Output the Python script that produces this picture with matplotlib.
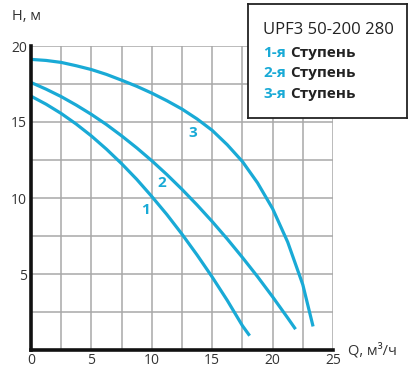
import numpy as np
import matplotlib.pyplot as plt

plt.rcParams['font.family'] = ['Open Sans', 'DejaVu Sans']

# pump curves: Q [m3/h], H [m]
q1 = [0, 1.25, 2.5, 3.75, 5, 6.25, 7.5, 8.75, 10, 11.25, 12.5, 13.75, 15, 16.25,
      17.5, 18.1]
h1 = [16.7, 16.17, 15.56, 14.86, 14.08, 13.21, 12.26, 11.23, 10.1, 8.91, 7.62,
      6.25, 4.8, 3.26, 1.6, 0.94]
q2 = [0, 1.25, 2.5, 3.75, 5, 6.25, 7.5, 8.75, 10, 11.25, 12.5, 13.75, 15, 16.25,
      17.5, 18.75, 20, 21.25, 21.9]
h2 = [17.6, 17.16, 16.67, 16.11, 15.5, 14.83, 14.09, 13.3, 12.45, 11.54, 10.57,
      9.54, 8.45, 7.3, 6.09, 4.83, 3.5, 2.11, 1.37]
q3 = [0, 1.25, 2.5, 3.75, 5, 6.25, 7.5, 8.75, 10, 11.25, 12.5, 13.75, 15, 16.25,
      17.5, 18.75, 20, 21.25, 22.5, 23.35]
h3 = [19.12, 19.05, 18.92, 18.7, 18.45, 18.13, 17.75, 17.35, 16.9, 16.4, 15.85,
      15.2, 14.45, 13.5, 12.4, 11.0, 9.3, 7.1, 4.3, 1.55]

curve_labels = ["1", "2", "3"]
label_pos = [(9.5, 9.2), (10.85, 10.97), (13.4, 14.25)]
title = "UPF3 50-200 280"
stages = ["1-я", "2-я", "3-я"]
stage_word = "Ступень"

blue = "#19aad6"
dark = "#222222"

fig = plt.figure(figsize=(4.12, 3.70), dpi=100)
ax = fig.add_axes([31/412, 1 - 350/370, 302/412, 304/370])

for q, h in [(q1, h1), (q2, h2), (q3, h3)]:
    ax.plot(q, h, color=blue, lw=2.3, solid_capstyle='butt', zorder=3)

for lab, (x, y) in zip(curve_labels, label_pos):
    ax.text(x, y, lab, color=blue, fontsize=11, fontweight='bold',
            ha='center', va='center', zorder=4)

ax.set_xlim(0, 25)
ax.set_ylim(0, 20)
ax.set_xticks(np.arange(0, 26, 5))
ax.set_yticks(np.arange(5, 21, 5))
ax.set_xticks(np.arange(0, 25.1, 2.5), minor=True)
ax.set_yticks(np.arange(0, 20.1, 2.5), minor=True)
ax.grid(which='both', color='#a8a8a8', lw=1.1, zorder=1)
ax.tick_params(which='both', length=0, labelsize=10, colors='#333333', pad=3)
ax.tick_params(axis='x', pad=2)
for s in ['top', 'right']:
    ax.spines[s].set_visible(False)
for s in ['left', 'bottom']:
    ax.spines[s].set_linewidth(2.6)
    ax.spines[s].set_color('#111111')
    ax.spines[s].set_zorder(5)

fig.text(12/412, 1 - 16/370, "H, м", fontsize=10.5, color='#333333', va='center')
fig.text(348/412, 1 - 351/370, "Q, м³/ч", fontsize=10.5, color='#333333', va='center')

# legend box as an overlay axes
lax = fig.add_axes([248/412, 1 - 118/370, 159/412, 114/370], zorder=10)
lax.set_xlim(0, 159)
lax.set_ylim(118, 4)
lax.set_xticks([])
lax.set_yticks([])
for s in lax.spines.values():
    s.set_linewidth(1.3)
    s.set_color('#222222')

lax.text(15, 30, title, fontsize=12, color=dark, va='center')
for i, st in enumerate(stages):
    t = lax.text(15, 56.5 + 20.8 * i, st, fontsize=11, fontweight='bold',
                 color=blue, va='baseline')
    lax.annotate(stage_word, xy=(1, 0), xycoords=t, xytext=(3, 0),
                 textcoords='offset points', fontsize=11, fontweight='bold',
                 color=dark, va='bottom')

fig.savefig("out.png", dpi=100)
